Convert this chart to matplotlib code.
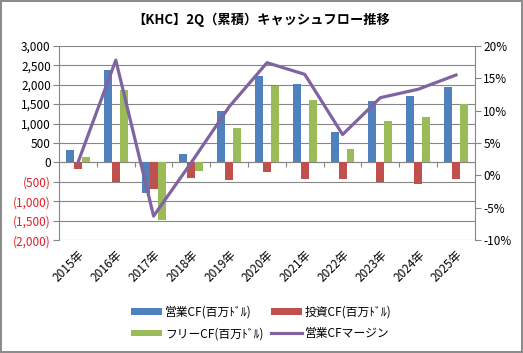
import numpy as np
import matplotlib
matplotlib.use("Agg")
import matplotlib.pyplot as plt
from matplotlib.ticker import FuncFormatter, MultipleLocator

plt.rcParams['font.family'] = ['Noto Sans CJK JP', 'DejaVu Sans']

# Data
years = ["2015年", "2016年", "2017年", "2018年", "2019年", "2020年",
         "2021年", "2022年", "2023年", "2024年", "2025年"]
op_cf = [317, 2375, -780, 214, 1318, 2226, 2012, 786, 1573, 1702, 1935]
inv_cf = [-171, -497, -686, -412, -455, -249, -421, -421, -498, -558, -421]
free_cf = [137, 1861, -1484, -214, 890, 1969, 1601, 342, 1070, 1162, 1491]
op_margin = [2.0, 17.8, -6.3, 2.0, 10.6, 17.4, 15.6, 6.3, 12.0, 13.3, 15.5]

BLUE = "#4F81BD"
RED = "#C0504D"
GREEN = "#9BBB59"
PURPLE = "#8064A2"
GRID = "#868686"

fig = plt.figure(figsize=(5.23, 3.53), dpi=100)
fig.patch.set_edgecolor("#8c8c8c")
fig.patch.set_linewidth(1.5)
ax = fig.add_axes([0.113, 0.320, 0.795, 0.550])

x = np.arange(len(years))
w = 0.21
b1 = ax.bar(x - w, op_cf, w, color=BLUE, label="営業CF(百万ﾄﾞﾙ)", zorder=3)
b2 = ax.bar(x, inv_cf, w, color=RED, label="投資CF(百万ﾄﾞﾙ)", zorder=3)
b3 = ax.bar(x + w, free_cf, w, color=GREEN, label="フリーCF(百万ﾄﾞﾙ)", zorder=3)

ax.set_xlim(-0.5, len(years) - 0.5)
ax.set_ylim(-2000, 3000)
ax.yaxis.set_major_locator(MultipleLocator(500))
ax.yaxis.grid(True, color=GRID, linewidth=0.8, zorder=0)
ax.set_axisbelow(True)

def fmt_left(v, pos):
    if v < 0:
        return "({:,.0f})".format(-v)
    return "{:,.0f}".format(v)

ax.yaxis.set_major_formatter(FuncFormatter(fmt_left))
ax.tick_params(axis='y', labelsize=8.5, color=GRID, length=4, pad=2)
for lbl, val in zip(ax.get_yticklabels(), ax.get_yticks()):
    if val < 0:
        lbl.set_color("#E0202A")

# zero line with category boundary ticks
ax.axhline(0, color=GRID, linewidth=0.8, zorder=2)
ax.vlines(np.arange(len(years) - 1) + 0.5, -130, 0, color=GRID, linewidth=0.8, zorder=2)

ax.set_xticks(x)
ax.set_xticklabels(years, rotation=45, ha="right", rotation_mode="anchor", fontsize=8.5)
ax.tick_params(axis='x', length=0, pad=6)

for s in ["top", "bottom"]:
    ax.spines[s].set_visible(False)
ax.spines["left"].set_color(GRID)
ax.spines["right"].set_visible(False)

ax2 = ax.twinx()
ln, = ax2.plot(x, op_margin, color=PURPLE, linewidth=2.3, label="営業CFマージン", zorder=4)
ax2.set_ylim(-10, 20)
ax2.yaxis.set_major_locator(MultipleLocator(5))
ax2.yaxis.set_major_formatter(FuncFormatter(lambda v, p: "{:.0f}%".format(v)))
ax2.tick_params(axis='y', labelsize=8.5, color=GRID, length=4, pad=2)
for s in ["top", "bottom", "left"]:
    ax2.spines[s].set_visible(False)
ax2.spines["right"].set_color(GRID)

# column-first fill: order so rows read (営業, 投資) / (フリー, マージン)
handles = [b1, b3, b2, ln]
labels = [h.get_label() for h in handles]
leg = fig.legend(handles, labels, ncol=2, loc="center", bbox_to_anchor=(0.5, 0.085),
                 frameon=False, fontsize=8.5, handlelength=2.6, handleheight=0.5,
                 columnspacing=0.6, handletextpad=0.3, labelspacing=0.7)

fig.text(0.5, 0.945, "【KHC】2Q（累積）キャッシュフロー推移", ha="center", va="center",
         fontsize=9.5, fontweight="bold")

fig.savefig("out.png", dpi=100, edgecolor=fig.get_edgecolor())
